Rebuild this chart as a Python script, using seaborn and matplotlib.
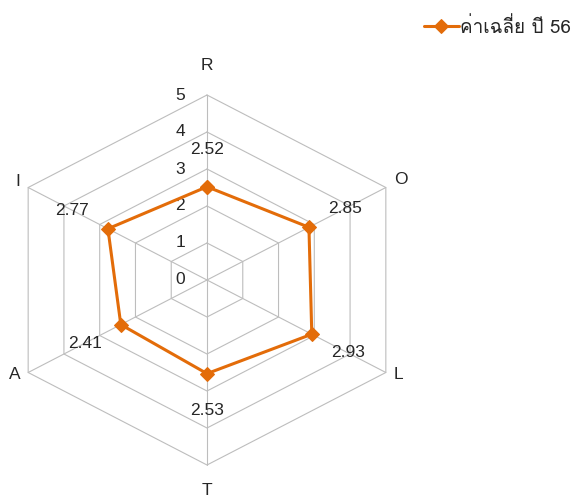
import numpy as np
import pandas as pd
import matplotlib
matplotlib.use('Agg')
import matplotlib.pyplot as plt
import seaborn as sns
from matplotlib import font_manager
from matplotlib.ft2font import FT2Font

# data
categories = ['R', 'O', 'L', 'T', 'A', 'I']
values = [2.52, 2.85, 2.93, 2.53, 2.41, 2.77]
ticks = [0, 1, 2, 3, 4, 5]
series_name = 'ค่าเฉลี่ย ปี 56'

sns.set_style('white')

# look for any installed font with Thai glyphs
thai_font = None
for f in font_manager.fontManager.ttflist:
    try:
        if FT2Font(f.fname).get_char_index(ord('ค')):
            thai_font = f.name
            break
    except Exception:
        pass

base = ['Liberation Sans', 'DejaVu Sans']
plt.rcParams['font.family'] = base
legend_family = [thai_font] + base if thai_font else base

orange = '#E36C09'
grid_c = '#BDBDBD'
text_c = '#262626'
fs = 12.5

fig = plt.figure(figsize=(5.78, 4.97), dpi=100)
ax = fig.add_axes([0, 0, 1, 1])
# pixel scale: centre at (207, 280), 41.3 px per unit in x, 37 px per unit in y
ax.set_xlim(-207 / 41.3, (578 - 207) / 41.3)
ax.set_ylim(-(497 - 280) / 37, 280 / 37)
ax.axis('off')

n = len(categories)
theta = np.arange(n) * 2 * np.pi / n
ux, uy = np.sin(theta), np.cos(theta)

# hexagon grid
for t in ticks[1:]:
    ax.plot(np.append(ux, ux[0]) * t, np.append(uy, uy[0]) * t, color=grid_c, lw=0.8, zorder=1)
for i in range(n):
    ax.plot([0, ux[i] * ticks[-1]], [0, uy[i] * ticks[-1]], color=grid_c, lw=0.8, zorder=1)

# tick labels along the first axis
for t in ticks:
    ax.text(-0.65, t, str(t), ha='center', va='center', fontsize=fs, color=text_c)

# category labels
offs = [(0, 22, 'center', 'bottom'), (8, 8, 'left', 'center'), (8, -2, 'left', 'center'),
        (0, -18, 'center', 'top'), (-8, -2, 'right', 'center'), (-8, 6, 'right', 'center')]
for i, c in enumerate(categories):
    dx, dy, ha, va = offs[i]
    ax.annotate(c, (ux[i] * ticks[-1], uy[i] * ticks[-1]), xytext=(dx, dy),
                textcoords='offset pixels', ha=ha, va=va, fontsize=fs, color=text_c)

# series
v = np.array(values)
df = pd.DataFrame({'x': np.append(ux * v, ux[0] * v[0]), 'y': np.append(uy * v, uy[0] * v[0])})
sns.lineplot(data=df, x='x', y='y', sort=False, estimator=None, ax=ax, color=orange,
             lw=2.2, marker='D', markersize=7, markeredgecolor=orange, label=series_name, zorder=3)
ax.axis('off')

# value labels
for i, val in enumerate(values):
    ax.text(ux[i] * (val + 1), uy[i] * (val + 1), f'{val:.2f}', ha='center', va='center',
            fontsize=fs, color=text_c)

leg = ax.legend(loc='center left', bbox_to_anchor=(424 / 578, 1 - 27 / 497), bbox_transform=fig.transFigure,
                frameon=False, borderpad=0, borderaxespad=0, handlelength=1.85, handletextpad=0.03,
                prop={'family': legend_family, 'size': 13.6})
for t in leg.get_texts():
    t.set_color(text_c)

fig.savefig('out.png', dpi=100)
